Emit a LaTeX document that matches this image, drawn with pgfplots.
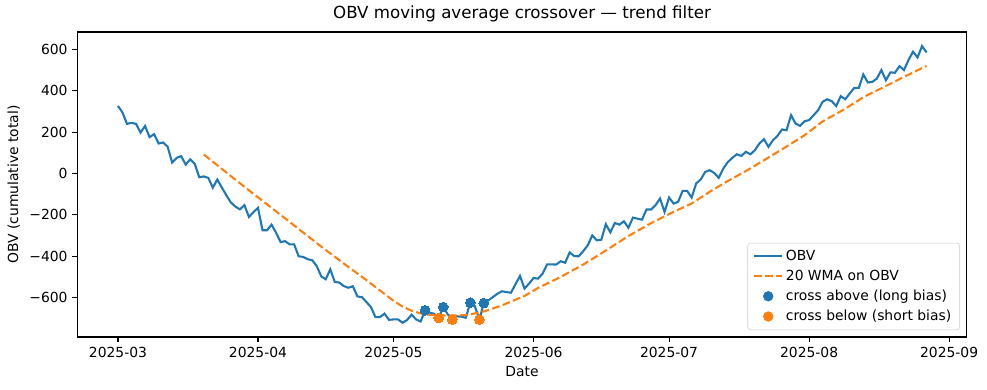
\documentclass[border=0pt]{standalone}
\usepackage{pgfplots}
\pgfplotsset{compat=1.18}
\usepackage{pgfplotstable}
\usepackage{fontspec}
\setmainfont{DejaVu Sans}
\definecolor{tabblue}{HTML}{1F77B4}
\definecolor{taborange}{HTML}{FF7F0E}

\pgfplotstableread{
d v
0 327
1 295
2 240
3 245
4 240
5 198
6 230
7 176
8 190
9 145
10 150
11 129
12 53
13 76
14 84
15 43
16 69
17 47
18 -18
19 -14
20 -21
21 -68
22 -29
23 -68
24 -105
25 -140
26 -160
27 -173
28 -153
29 -210
30 -186
31 -166
32 -274
33 -274
34 -247
35 -286
36 -331
37 -327
38 -342
39 -342
40 -400
41 -403
42 -414
43 -419
44 -447
45 -497
46 -511
47 -463
48 -524
49 -527
50 -544
51 -552
52 -545
53 -594
54 -597
55 -621
56 -645
57 -694
58 -694
59 -677
60 -707
61 -705
62 -705
63 -721
64 -708
65 -682
66 -705
67 -715
68 -661
69 -672
70 -678
71 -698
72 -645
73 -680
74 -706
75 -690
76 -692
77 -697
78 -624
79 -640
80 -706
81 -626
82 -613
83 -597
84 -581
85 -569
86 -573
87 -576
88 -535
89 -495
90 -556
91 -532
92 -505
93 -508
94 -484
95 -439
96 -439
97 -440
98 -424
99 -431
100 -381
101 -399
102 -400
103 -375
104 -347
105 -299
106 -323
107 -320
108 -245
109 -284
110 -239
111 -247
112 -231
113 -262
114 -213
115 -218
116 -223
117 -174
118 -174
119 -153
120 -121
121 -186
122 -116
123 -145
124 -137
125 -84
126 -84
127 -116
128 -48
129 -29
130 8
131 16
132 3
133 -21
134 24
135 55
136 76
137 93
138 85
139 105
140 93
141 113
142 145
143 166
144 129
145 161
146 182
147 213
148 209
149 282
150 242
151 230
152 253
153 258
154 282
155 306
156 347
157 359
158 350
159 326
160 374
161 359
162 387
163 414
164 414
165 479
166 440
167 443
168 459
169 500
170 451
171 489
172 487
173 519
174 500
175 548
176 589
177 561
178 616
179 585
}\obvdata

\pgfplotstableread{
d v
19 92
22 40
26 -30
30 -98
35 -183
40 -268
45 -353
50 -435
55 -515
58 -565
61 -615
63 -643
65 -663
67 -676
69 -683
72 -686
75 -686
77 -684
80 -672
82 -660
85 -637
88 -610
90 -592
93 -553
98 -500
103 -440
108 -372
113 -302
118 -240
123 -185
127 -145
131 -88
135 -36
139 12
143 64
147 117
152 185
156 252
161 313
165 369
170 423
174 467
179 520
}\wmadata

\pgfplotstableread{
d v
68 -661
72 -645
78 -624
81 -626
}\crossup

\pgfplotstableread{
d v
71 -698
74 -706
80 -706
}\crossdown

\begin{document}
\begin{tikzpicture}
\path[use as bounding box] (-55.66bp,-38.16bp) rectangle (654.98bp,242.64bp);
\begin{axis}[
  scale only axis, width=640.4bp, height=219.6bp,
  at={(0,0)}, anchor=south west,
  xmin=-9, xmax=187.9, ymin=-790, ymax=684,
  axis line style={line width=0.8bp},
  every tick/.style={line width=0.8bp, black},
  tick align=outside, major tick length=3.5bp,
  xtick pos=left, ytick pos=left,
  xtick={0,31,61,92,122,153,184},
  xticklabels={2025-03,2025-04,2025-05,2025-06,2025-07,2025-08,2025-09},
  ytick={-600,-400,-200,0,200,400,600},
  yticklabels={−600,−400,−200,0,200,400,600},
  ticklabel style={font=\fontsize{10bp}{12bp}\selectfont},
  title={OBV moving average crossover — trend filter},
  title style={font=\fontsize{12bp}{14bp}\selectfont, yshift=-2bp},
  xlabel={Date}, ylabel={OBV (cumulative total)},
  label style={font=\fontsize{10bp}{12bp}\selectfont},
  legend cell align=left,
  legend style={at={(1,0)}, anchor=south east, xshift=-5bp, yshift=5bp,
    draw=black!20, rounded corners=2bp, fill=white, fill opacity=0.8, text opacity=1,
    font=\fontsize{10bp}{12bp}\selectfont, row sep=1.5bp, inner xsep=4bp, inner ysep=3bp},
]
\addplot[tabblue, line width=1.5bp, no markers,
  legend image code/.code={\draw[tabblue, line width=1.5bp] (0bp,0bp) -- (20bp,0bp);}]
  table[x=d, y=v] {\obvdata};
\addlegendentry{OBV}
\addplot[taborange, line width=1.5bp, no markers, dash pattern=on 5.55bp off 2.4bp,
  legend image code/.code={\draw[taborange, line width=1.5bp, dash pattern=on 5.55bp off 2.4bp] (0bp,0bp) -- (20bp,0bp);}]
  table[x=d, y=v] {\wmadata};
\addlegendentry{20 WMA on OBV}
\addplot[only marks, mark=*, mark size=3.5bp, mark options={draw=tabblue, fill=tabblue, line width=0pt, fill opacity=1, draw opacity=1},
  legend image code/.code={\fill[tabblue, fill opacity=1] (10bp,0bp) circle (3.5bp);}]
  table[x=d, y=v] {\crossup};
\addlegendentry{cross above (long bias)}
\addplot[only marks, mark=*, mark size=3.5bp, mark options={draw=taborange, fill=taborange, line width=0pt, fill opacity=1, draw opacity=1},
  legend image code/.code={\fill[taborange, fill opacity=1] (10bp,0bp) circle (3.5bp);}]
  table[x=d, y=v] {\crossdown};
\addlegendentry{cross below (short bias)}
\end{axis}
\end{tikzpicture}
\end{document}
